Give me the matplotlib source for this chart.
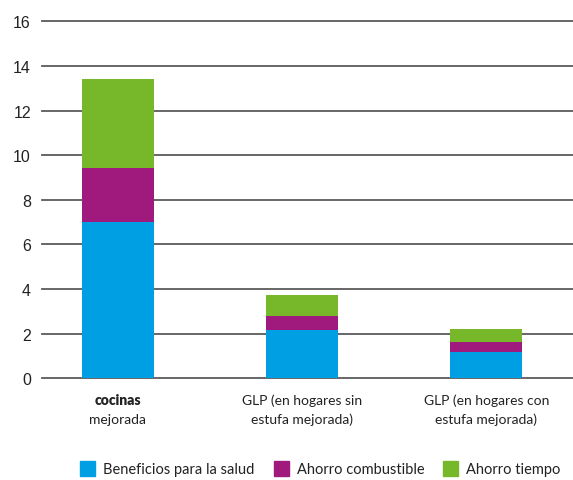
import matplotlib
matplotlib.use('Agg')
import matplotlib.pyplot as plt
from matplotlib.patches import Rectangle
from matplotlib import transforms

# data
cat_line1 = ['cocinas', 'GLP (en hogares sin', 'GLP (en hogares con']
cat_line2 = ['mejorada', 'estufa mejorada)', 'estufa mejorada)']
salud = [7.0, 2.16, 1.2]
combustible = [2.43, 0.62, 0.44]
tiempo = [4.0, 0.95, 0.56]
series = ['Beneficios para la salud', 'Ahorro combustible', 'Ahorro tiempo']
colors = ['#009FE3', '#A0197D', '#77B82A']

narrow = ['Lato', 'DejaVu Sans']
W, H = 573, 481

fig = plt.figure(figsize=(5.73, 4.81), dpi=100)
ax = fig.add_axes([0.0733, 0.2114, 0.9267, 0.7422])

x = range(len(cat_line1))
w = 0.39
bottom2 = [a + b for a, b in zip(salud, combustible)]
ax.bar(x, salud, w, color=colors[0], zorder=3)
ax.bar(x, combustible, w, bottom=salud, color=colors[1], zorder=3)
ax.bar(x, tiempo, w, bottom=bottom2, color=colors[2], zorder=3)

ax.set_xlim(-0.41, 2.47)
ax.set_ylim(0, 16)
ax.set_yticks(range(0, 17, 2))
for t in ax.get_yticks():
    ax.axhline(t, color='#5a5a5a', lw=1.3, zorder=1, clip_on=False)
for s in ax.spines.values():
    s.set_visible(False)
ax.tick_params(axis='y', length=0, pad=8, labelsize=11.5, colors='#222222')
ax.set_yticklabels([str(int(t)) for t in ax.get_yticks()], family='Liberation Sans')
ax.set_xticks([])

trans = transforms.blended_transform_factory(ax.transData, fig.transFigure)
for i in x:
    ax.text(i, 1 - 401 / H, cat_line1[i], transform=trans, ha='center', va='center',
            fontsize=10, family=narrow, color='#222222',
            fontweight='heavy' if i == 0 else 'normal')
    ax.text(i, 1 - 420 / H, cat_line2[i], transform=trans, ha='center', va='center',
            fontsize=10, family=narrow, color='#222222')

# legend, laid out like the reference
leg_x = [80, 274, 443]
for lx, c, lab in zip(leg_x, colors, series):
    fig.add_artist(Rectangle((lx / W, 1 - 477 / H), 15 / W, 15 / H,
                             transform=fig.transFigure, color=c))
    fig.text((lx + 23) / W, 1 - 470 / H, lab, ha='left', va='center',
             fontsize=10.5, family=narrow, color='#222222')

fig.savefig('out.png', dpi=100)
